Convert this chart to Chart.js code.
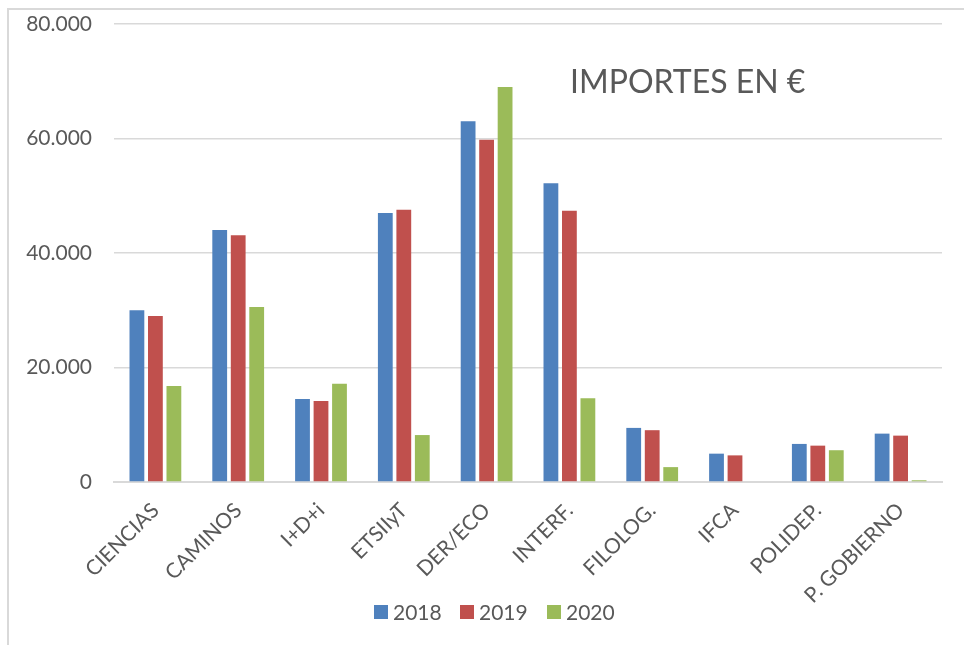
<!DOCTYPE html>
<html>
<head>
<meta charset="utf-8">
<script src="https://cdn.jsdelivr.net/npm/chart.js@4.4.0/dist/chart.umd.min.js"></script>
<style>
  html, body { margin: 0; padding: 0; background: #ffffff; }
  #wrap { position: relative; width: 964px; height: 645px; overflow: hidden; }
  #frame { position: absolute; left: 7px; top: 8px; width: 1000px; height: 700px;
           border-left: 2px solid #d9d9d9; border-top: 2px solid #d9d9d9; box-sizing: border-box; }
  canvas { position: absolute; left: 0; top: 0; }
  #legend { position: absolute; left: 0; top: 600px; width: 964px; height: 24px;
            font-family: Lato, 'Open Sans', sans-serif; font-size: 21px; color: #595959; }
  .item { position: absolute; top: 0; height: 24px; line-height: 24px; white-space: nowrap; }
  .box { position: absolute; left: 0; top: 5px; width: 14px; height: 14px; }
  .lbl { position: absolute; left: 19px; top: 0; }
</style>
</head>
<body>
<div id="wrap">
  <div id="frame"></div>
  <canvas id="c" width="964" height="645"></canvas>
  <div id="legend"></div>
</div>
<script>
const categories = ["CIENCIAS", "CAMINOS", "I+D+i", "ETSIIyT", "DER/ECO", "INTERF.", "FILOLOG.", "IFCA", "POLIDEP.", "P. GOBIERNO"];
const seriesNames = ["2018", "2019", "2020"];
const values2018 = [30000, 44000, 14500, 47000, 63000, 52200, 9450, 4950, 6650, 8450];
const values2019 = [29000, 43100, 14150, 47550, 59800, 47400, 9050, 4650, 6350, 8100];
const values2020 = [16750, 30550, 17150, 8200, 69000, 14650, 2600, 0, 5550, 300];
const yTicks = [0, 20000, 40000, 60000, 80000];
const titleText = "IMPORTES EN €";

const colors = ["#4F81BD", "#C0504D", "#9BBB59"];
const textColor = "#595959";
const fontFamily = "Lato, 'Open Sans', sans-serif";

function fmt(v) {
  return String(Math.round(v)).replace(/\B(?=(\d{3})+(?!\d))/g, ".");
}

// HTML legend built from series names and colours
const legendEl = document.getElementById("legend");
const legendLefts = [374, 460, 547];
seriesNames.forEach((name, i) => {
  const it = document.createElement("div");
  it.className = "item";
  it.style.left = legendLefts[i] + "px";
  const b = document.createElement("div");
  b.className = "box";
  b.style.background = colors[i];
  const t = document.createElement("span");
  t.className = "lbl";
  t.textContent = name;
  it.appendChild(b); it.appendChild(t);
  legendEl.appendChild(it);
});

const titlePlugin = {
  id: "innerTitle",
  afterDraw(chart) {
    const ctx = chart.ctx;
    ctx.save();
    ctx.font = "32px " + fontFamily;
    ctx.fillStyle = textColor;
    ctx.textAlign = "left";
    ctx.textBaseline = "alphabetic";
    ctx.fillText(titleText, 570, 93);
    ctx.restore();
  }
};

const data = {
  labels: categories,
  datasets: [values2018, values2019, values2020].map((vals, i) => ({
    label: seriesNames[i],
    data: vals,
    backgroundColor: colors[i],
    borderWidth: 0,
    categoryPercentage: 0.67,
    barPercentage: 0.8
  }))
};

new Chart(document.getElementById("c"), {
  type: "bar",
  data,
  options: {
    responsive: false,
    animation: false,
    devicePixelRatio: 1,
    layout: { padding: { top: 24, right: 22, bottom: 15, left: 0 } },
    plugins: {
      legend: { display: false },
      tooltip: { enabled: false },
      title: { display: false }
    },
    scales: {
      x: {
        grid: { display: false, drawTicks: false },
        border: { display: true, color: "#d9d9d9", width: 2 },
        ticks: {
          color: textColor,
          font: { family: fontFamily, size: 21 },
          minRotation: 45, maxRotation: 45,
          padding: 16,
          autoSkip: false
        },
        afterFit(scale) { scale.height = 148; scale.paddingTop = 0; scale.paddingBottom = 0; }
      },
      y: {
        min: 0, max: 80000,
        afterBuildTicks(scale) { scale.ticks = yTicks.map(v => ({ value: v })); },
        grid: { color: "#d9d9d9", lineWidth: 1.5, drawTicks: false },
        border: { display: false },
        ticks: {
          color: textColor,
          font: { family: fontFamily, size: 21 },
          padding: 22,
          callback: (v) => fmt(v)
        },
        afterFit(scale) { scale.width = 114; scale.paddingTop = 0; scale.paddingBottom = 0; }
      }
    }
  },
  plugins: [titlePlugin]
});
</script>
</body>
</html>
